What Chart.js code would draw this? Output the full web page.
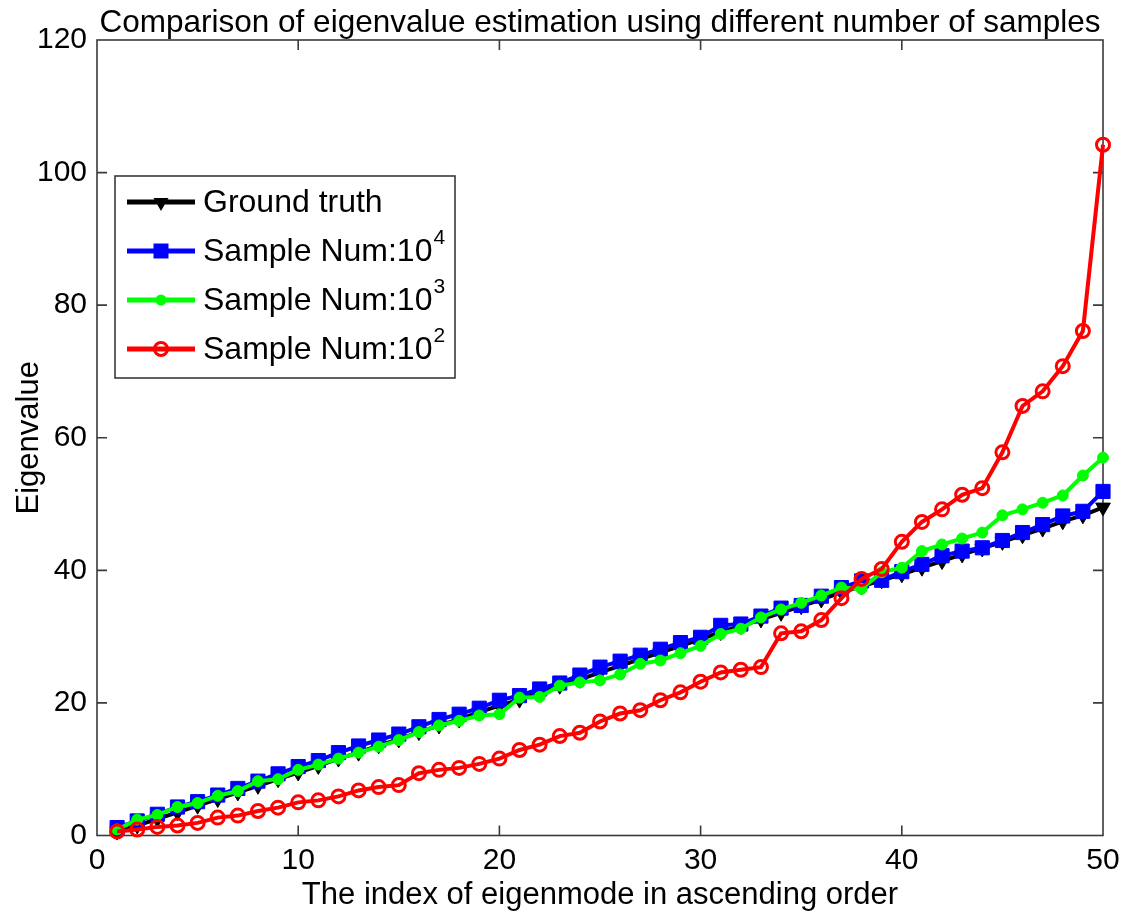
<!DOCTYPE html>
<html>
<head>
<meta charset="utf-8">
<script src="https://cdn.jsdelivr.net/npm/chart.js@4/dist/chart.umd.min.js"></script>
<style>
  html, body { margin: 0; padding: 0; background: #fff; }
  canvas { display: block; }
</style>
</head>
<body>
<canvas id="eigChart" width="1124" height="916"></canvas>
<script>
// eigenmode index (x) and eigenvalue estimates
var modeIndex = [1, 2, 3, 4, 5, 6, 7, 8, 9, 10, 11, 12, 13, 14, 15, 16, 17, 18, 19, 20,
	21, 22, 23, 24, 25, 26, 27, 28, 29, 30, 31, 32, 33, 34, 35, 36, 37, 38, 39, 40,
	41, 42, 43, 44, 45, 46, 47, 48, 49, 50];

var groundTruth = [0.6, 1.5, 2.5, 3.5, 4.5, 5.5, 6.5, 7.5, 8.5, 9.5,
	10.5, 11.6, 12.5, 13.6, 14.5, 15.6, 16.6, 17.5, 18.6, 19.6,
	20.5, 21.6, 22.6, 23.5, 24.6, 25.6, 26.6, 27.6, 28.6, 29.6,
	30.7, 31.6, 32.6, 33.6, 34.6, 35.6, 36.7, 37.6, 38.5, 39.4,
	40.4, 41.4, 42.4, 43.3, 44.3, 45.3, 46.3, 47.4, 48.3, 49.5];

var sample1e4 = [1.2, 2.2, 3.2, 4.3, 5.1, 6.1, 7.1, 8.2, 9.3, 10.4,
	11.3, 12.5, 13.5, 14.4, 15.3, 16.4, 17.5, 18.3, 19.2, 20.4,
	21.1, 22.1, 23.0, 24.2, 25.4, 26.3, 27.2, 28.1, 29.1, 29.9,
	31.7, 31.9, 33.1, 34.3, 34.7, 36.1, 37.4, 38.4, 38.5, 39.8,
	40.9, 42.2, 42.9, 43.4, 44.5, 45.7, 46.9, 48.2, 48.9, 51.9];

var sample1e3 = [0.9, 2.4, 3.1, 4.3, 4.9, 6.0, 6.7, 8.2, 8.5, 9.9,
	10.7, 11.6, 12.5, 13.4, 14.4, 15.6, 16.6, 17.3, 18.1, 18.3,
	20.8, 20.9, 22.6, 23.1, 23.4, 24.3, 25.9, 26.4, 27.5, 28.6,
	30.4, 31.2, 32.9, 34.1, 35.1, 36.2, 37.4, 37.2, 39.7, 40.4,
	42.9, 43.9, 44.8, 45.7, 48.3, 49.2, 50.2, 51.3, 54.3, 57.0];

var sample1e2 = [0.6, 0.9, 1.3, 1.5, 1.9, 2.7, 3.0, 3.7, 4.2, 5.0,
	5.3, 5.9, 6.8, 7.3, 7.6, 9.4, 9.9, 10.2, 10.8, 11.6,
	12.9, 13.7, 15.0, 15.5, 17.2, 18.4, 18.9, 20.4, 21.6, 23.2,
	24.6, 25.0, 25.4, 30.5, 30.8, 32.5, 35.8, 38.7, 40.2, 44.3,
	47.3, 49.2, 51.4, 52.4, 57.8, 64.8, 67.0, 70.8, 76.1, 104.2];

var xTickValues = [0, 10, 20, 30, 40, 50];
var yTickValues = [0, 20, 40, 60, 80, 100, 120];

var seriesLabels = ['Ground truth', 'Sample Num:10', 'Sample Num:10', 'Sample Num:10'];
var seriesSup = ['', '4', '3', '2'];
var seriesColors = ['#000000', '#0000ff', '#00ff00', '#ff0000'];
var seriesMarkers = ['tri', 'rect', 'dot', 'ring'];

var FONT = "'Liberation Sans', Arial, sans-serif";

function pairs(ys) {
	return modeIndex.map(function (x, i) { return { x: x, y: ys[i] }; });
}

// axes box with inward ticks on all four sides (matlab style)
var boxPlugin = {
	id: 'axesBox',
	beforeDatasetsDraw: function (chart) {
		var ctx = chart.ctx, a = chart.chartArea;
		var xs = chart.scales.x, ys = chart.scales.y;
		var tl = 10;
		ctx.save();
		ctx.strokeStyle = '#3a3a3a';
		ctx.lineWidth = 1.6;
		ctx.strokeRect(a.left, a.top, a.right - a.left, a.bottom - a.top);
		ctx.beginPath();
		xTickValues.forEach(function (v) {
			var px = xs.getPixelForValue(v);
			if (px <= a.left + 1 || px >= a.right - 1) return;
			ctx.moveTo(px, a.bottom); ctx.lineTo(px, a.bottom - tl);
			ctx.moveTo(px, a.top); ctx.lineTo(px, a.top + tl);
		});
		yTickValues.forEach(function (v) {
			var py = ys.getPixelForValue(v);
			if (py <= a.top + 1 || py >= a.bottom - 1) return;
			ctx.moveTo(a.left, py); ctx.lineTo(a.left + tl, py);
			ctx.moveTo(a.right, py); ctx.lineTo(a.right - tl, py);
		});
		ctx.stroke();
		ctx.restore();
	}
};

function drawMarker(ctx, kind, x, y, color) {
	ctx.save();
	ctx.fillStyle = color;
	ctx.strokeStyle = color;
	ctx.beginPath();
	if (kind === 'tri') {
		ctx.moveTo(x - 7.5, y - 4);
		ctx.lineTo(x + 7.5, y - 4);
		ctx.lineTo(x, y + 9);
		ctx.closePath();
		ctx.fill();
	} else if (kind === 'rect') {
		ctx.rect(x - 7.5, y - 7.5, 15, 15);
		ctx.fill();
	} else if (kind === 'dot') {
		ctx.arc(x, y, 5.5, 0, Math.PI * 2);
		ctx.fill();
	} else {
		ctx.lineWidth = 3;
		ctx.arc(x, y, 6.5, 0, Math.PI * 2);
		ctx.stroke();
	}
	ctx.restore();
}

// legend box drawn by hand so the labels can carry superscripts
var legendPlugin = {
	id: 'boxLegend',
	afterDraw: function (chart) {
		var ctx = chart.ctx;
		var bx = 115, by = 176, bw = 340, bh = 202;
		var rowY = [202, 251, 300, 349];
		ctx.save();
		ctx.fillStyle = '#fff';
		ctx.fillRect(bx, by, bw, bh);
		ctx.strokeStyle = '#3a3a3a';
		ctx.lineWidth = 1.6;
		ctx.strokeRect(bx, by, bw, bh);
		for (var i = 0; i < seriesLabels.length; i++) {
			var y = rowY[i];
			ctx.strokeStyle = seriesColors[i];
			ctx.lineWidth = 5;
			ctx.beginPath();
			ctx.moveTo(127, y);
			ctx.lineTo(195, y);
			ctx.stroke();
			drawMarker(ctx, seriesMarkers[i], 161, y, seriesColors[i]);

			ctx.fillStyle = '#000';
			ctx.textBaseline = 'middle';
			ctx.textAlign = 'left';
			ctx.font = '32px ' + FONT;
			ctx.fillText(seriesLabels[i], 203, y + 1);
			if (seriesSup[i]) {
				var w = ctx.measureText(seriesLabels[i]).width;
				ctx.font = '21px ' + FONT;
				ctx.fillText(seriesSup[i], 203 + w + 1, y - 13);
			}
		}
		ctx.restore();
	}
};

var chart = new Chart(document.getElementById('eigChart'), {
	type: 'line',
	data: {
		datasets: [{
			label: 'Ground truth',
			data: pairs(groundTruth),
			borderColor: '#000000',
			backgroundColor: '#000000',
			borderWidth: 4,
			pointStyle: 'triangle',
			pointRotation: 180,
			pointRadius: 8.5,
			pointBorderWidth: 1,
			order: 4
		}, {
			label: 'Sample Num:10^4',
			data: pairs(sample1e4),
			borderColor: '#0000ff',
			backgroundColor: '#0000ff',
			borderWidth: 4,
			pointStyle: 'rect',
			pointRadius: 10,
			pointBorderWidth: 1,
			order: 3
		}, {
			label: 'Sample Num:10^3',
			data: pairs(sample1e3),
			borderColor: '#00ff00',
			backgroundColor: '#00ff00',
			borderWidth: 4,
			pointStyle: 'circle',
			pointRadius: 5.5,
			pointBorderWidth: 1,
			order: 2
		}, {
			label: 'Sample Num:10^2',
			data: pairs(sample1e2),
			borderColor: '#ff0000',
			backgroundColor: 'rgba(0,0,0,0)',
			pointBackgroundColor: 'rgba(0,0,0,0)',
			borderWidth: 4,
			pointStyle: 'circle',
			pointRadius: 6.5,
			pointBorderWidth: 3,
			order: 1
		}]
	},
	options: {
		responsive: false,
		devicePixelRatio: 1,
		animation: false,
		clip: false,
		elements: { line: { tension: 0 } },
		layout: { padding: { left: 0, right: 0, top: 0, bottom: 0 } },
		plugins: {
			legend: { display: false },
			tooltip: { enabled: false },
			title: {
				display: true,
				fullSize: false,
				text: 'Comparison of eigenvalue estimation using different number of samples',
				color: '#000',
				font: { family: FONT, size: 31.5, weight: 'normal', lineHeight: 1 },
				padding: { top: 8, bottom: 0.5 }
			}
		},
		scales: {
			x: {
				type: 'linear',
				min: 0,
				max: 50,
				grid: { display: false, drawTicks: false },
				border: { display: false },
				afterBuildTicks: function (s) { s.ticks = xTickValues.map(function (v) { return { value: v }; }); },
				afterFit: function (s) {
					s.height = 80.5;
					s.paddingLeft = 0;
					s.paddingRight = 21;
				},
				ticks: { color: '#000', padding: 7, maxRotation: 0, font: { family: FONT, size: 30 } },
				title: {
					display: true,
					text: 'The index of eigenmode in ascending order',
					color: '#000',
					font: { family: FONT, size: 31 },
					padding: { top: 0, bottom: 2.4 }
				}
			},
			y: {
				type: 'linear',
				min: 0,
				max: 120,
				grid: { display: false, drawTicks: false },
				border: { display: false },
				afterBuildTicks: function (s) { s.ticks = yTickValues.map(function (v) { return { value: v }; }); },
				afterFit: function (s) { s.width = 97; },
				ticks: { color: '#000', padding: 10, font: { family: FONT, size: 30 } },
				title: {
					display: true,
					text: 'Eigenvalue',
					color: '#000',
					font: { family: FONT, size: 31 },
					padding: { top: 10.5, bottom: 0 }
				}
			}
		}
	},
	plugins: [boxPlugin, legendPlugin]
});
</script>
</body>
</html>
